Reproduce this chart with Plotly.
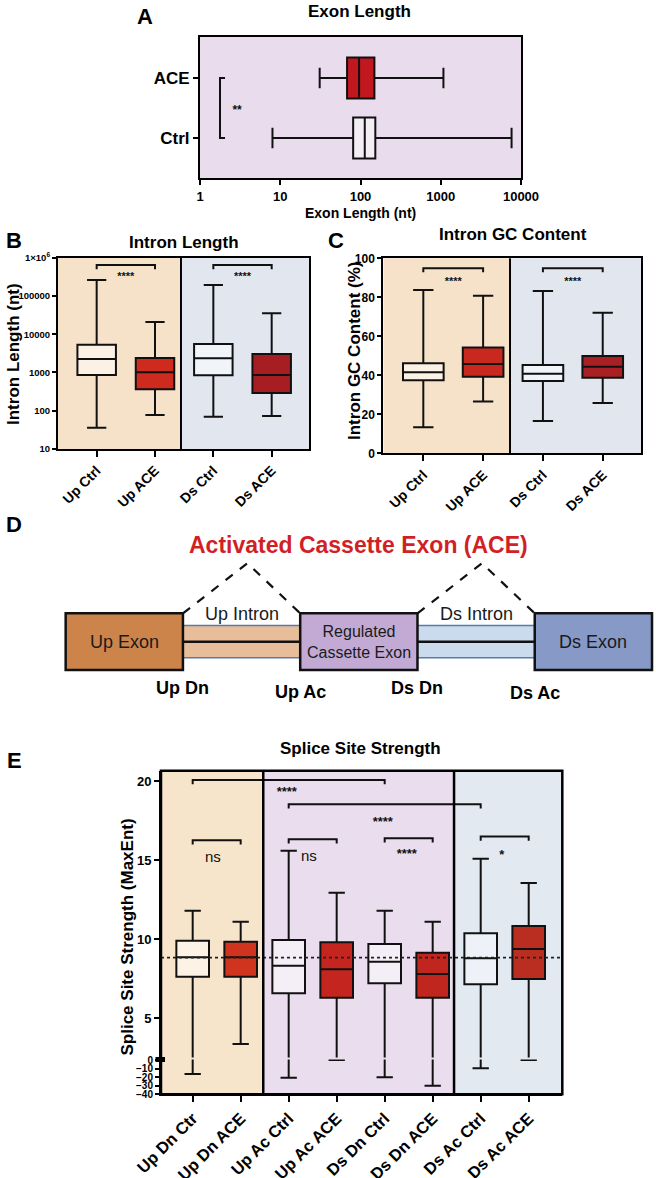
import plotly.graph_objects as go

W, H = 656, 1178
FONT = "Liberation Sans, Arial, Helvetica, sans-serif"
INK = "#111111"

# ---------------- Panel A : Exon Length (nt) ----------------
a_groups = ["Ctrl", "ACE"]
a_lowerfence = [8, 31]
a_q1 = [81, 68]
a_median = [113, 96]
a_q3 = [153, 149]
a_upperfence = [7630, 1080]
a_fill = ["#F4EEF4", "#C1171F"]
a_ticks = [1, 10, 100, 1000, 10000]
a_sig = "**"

# ---------------- Panel B : Intron Length (nt) ----------------
b_groups = ["Up Ctrl", "Up ACE", "Ds Ctrl", "Ds ACE"]
b_lowerfence = [36, 77, 70, 73]
b_q1 = [860, 363, 843, 291]
b_median = [2250, 1010, 2345, 860]
b_q3 = [5320, 2390, 5550, 3040]
b_upperfence = [261000, 20900, 193000, 35200]
b_fill = ["#FBF1E4", "#CF2A1E", "#F1F4F8", "#A71E22"]
b_tickvals = [10, 100, 1000, 10000, 100000, 1000000]
b_ticktext = ["10", "100", "1000", "10000", "100000", "1×10<sup>6</sup>"]
b_sig = [(0, 1, "****"), (2, 3, "****")]
b_sig_level, b_sig_tick, b_sig_label = 6.4e5, 5.0e5, 3.0e5

# ---------------- Panel C : Intron GC Content (%) ----------------
c_groups = ["Up Ctrl", "Up ACE", "Ds Ctrl", "Ds ACE"]
c_lowerfence = [13.3, 26.5, 16.6, 25.8]
c_q1 = [37.4, 39.3, 37.1, 38.8]
c_median = [41.5, 45.8, 40.8, 44.4]
c_q3 = [46.2, 54.2, 45.3, 49.9]
c_upperfence = [83.7, 80.8, 83.2, 72.1]
c_fill = ["#FBF1E4", "#C9281E", "#F1F4F8", "#A81F24"]
c_sig = [(0, 1, "****"), (2, 3, "****")]
c_sig_level, c_sig_tick, c_sig_label = 94.9, 92.8, 87.6

# ---------------- Panel D : schematic ----------------
d_elements = ["Up Exon", "Up Intron", "Regulated<br>Cassette Exon", "Ds Intron", "Ds Exon"]
d_kind = ["exon", "intron", "exon", "intron", "exon"]
d_fill = ["#CD844B", "#E8BE9A", "#C2AAD5", "#CADBEE", "#8799C6"]
d_sites = ["Up Dn", "Up Ac", "Ds Dn", "Ds Ac"]
d_title = "Activated Cassette Exon (ACE)"

# ---------------- Panel E : Splice Site Strength (MaxEnt) ----------------
e_groups = ["Up Dn Ctr", "Up Dn ACE", "Up Ac Ctrl", "Up Ac ACE",
            "Ds Dn Ctrl", "Ds Dn ACE", "Ds Ac Ctrl", "Ds Ac ACE"]
e_lowerfence = [-16.3, 3.37, -20.6, 0.0, -20.2, -30.0, -9.7, 0.0]
e_q1 = [7.63, 7.63, 6.58, 6.30, 7.22, 6.30, 7.15, 7.49]
e_median = [8.86, 8.86, 8.33, 8.10, 8.58, 7.80, 8.80, 9.39]
e_q3 = [9.91, 9.85, 9.96, 9.81, 9.70, 9.15, 10.38, 10.84]
e_upperfence = [11.81, 11.11, 15.61, 12.95, 11.81, 11.11, 15.10, 13.56]
e_fill = ["#FCF3E6", "#D0341E", "#F4EEF6", "#C4261F",
          "#F4EEF6", "#C0251E", "#EEF2F8", "#B92E20"]
e_reference = 8.84
# (from, to, bracket level, label, label level)
e_sig = [(0, 4, 20.08, "****", 19.25), (2, 6, 18.54, "****", 17.35),
         (0, 1, 16.27, "ns", 15.15), (2, 3, 16.33, "ns", 15.2),
         (4, 5, 16.40, "****", 15.35), (6, 7, 16.50, "*", 15.3)]

# ---------------- helpers ----------------
def xd(p0, p1):
    return [p0 / W, p1 / W]

def yd(p0, p1):
    return [1 - p1 / H, 1 - p0 / H]

def px(x):
    return x / W

def py(y):
    return 1 - y / H

fig = go.Figure()

def add_box(pos, lf, q1, med, q3, uf, fill, xa, ya, width, horizontal=False):
    kw = dict(q1=[q1], median=[med], q3=[q3], lowerfence=[lf], upperfence=[uf],
              fillcolor=fill, line=dict(color=INK, width=2), width=width,
              whiskerwidth=0.5, boxpoints=False, xaxis=xa, yaxis=ya,
              showlegend=False, hoverinfo="skip")
    if horizontal:
        kw.update(y=[pos], orientation="h")
    else:
        kw.update(x=[pos])
    fig.add_trace(go.Box(**kw))

def bracket(x0, x1, level, tick, xa, ya):
    fig.add_trace(go.Scatter(x=[x0, x0, x1, x1], y=[tick, level, level, tick],
                             mode="lines", line=dict(color=INK, width=2),
                             xaxis=xa, yaxis=ya, showlegend=False, hoverinfo="skip"))

def sig_text(x, y, t, xa, ya, size=11, bold=True):
    fig.add_trace(go.Scatter(x=[x], y=[y], text=[t], mode="text",
                             textfont=dict(family=FONT, size=size, color=INK,
                                           weight="bold" if bold else "normal"),
                             xaxis=xa, yaxis=ya, showlegend=False, hoverinfo="skip"))

shapes = []
annotations = []

def ann(text, x, y, size, bold=True, angle=0, color="#000000", xref="paper", yref="paper"):
    annotations.append(dict(text=text, x=x, y=y, xref=xref, yref=yref, showarrow=False,
                            xanchor="center", yanchor="middle", textangle=angle,
                            font=dict(family=FONT, size=size, color=color,
                                      weight="bold" if bold else "normal")))

axis_common = dict(showgrid=False, zeroline=False, showline=True, linecolor="#000",
                   linewidth=2, ticks="outside", tickwidth=2, tickcolor="#000",
                   automargin=False)

# ---------------- Panel A ----------------
for i, g in enumerate(a_groups):
    add_box(i, a_lowerfence[i], a_q1[i], a_median[i], a_q3[i], a_upperfence[i],
            a_fill[i], "x", "y", 0.68, horizontal=True)
fig.add_trace(go.Scatter(x=[2.05, 1.775, 1.775, 2.05], y=[1, 1, 0, 0], mode="lines",
                         line=dict(color=INK, width=2), xaxis="x", yaxis="y",
                         showlegend=False, hoverinfo="skip"))
sig_text(2.9, 0.45, a_sig, "x", "y", size=12)
shapes.append(dict(type="rect", xref="x domain", yref="y domain", x0=0, x1=1, y0=0, y1=1,
                   fillcolor="#E9DDED", line=dict(width=0), layer="below"))

# ---------------- Panel B ----------------
B_DIV = 1.445
for i, g in enumerate(b_groups):
    add_box(i, b_lowerfence[i], b_q1[i], b_median[i], b_q3[i], b_upperfence[i],
            b_fill[i], "x2", "y2", 0.66)
for (i0, i1, t) in b_sig:
    bracket(i0, i1, b_sig_level, b_sig_tick, "x2", "y2")
    sig_text((i0 + i1) / 2, b_sig_label, t, "x2", "y2", size=11)
shapes += [
    dict(type="rect", xref="x2", yref="y2 domain", x0=-0.663, x1=B_DIV, y0=0, y1=1,
         fillcolor="#F6E2C9", line=dict(width=0), layer="below"),
    dict(type="rect", xref="x2", yref="y2 domain", x0=B_DIV, x1=3.645, y0=0, y1=1,
         fillcolor="#E2E7EF", line=dict(width=0), layer="below"),
    dict(type="line", xref="x2", yref="y2 domain", x0=B_DIV, x1=B_DIV, y0=0, y1=1,
         line=dict(color="#000", width=2)),
]

# ---------------- Panel C ----------------
C_DIV = 1.45
for i, g in enumerate(c_groups):
    add_box(i, c_lowerfence[i], c_q1[i], c_median[i], c_q3[i], c_upperfence[i],
            c_fill[i], "x3", "y3", 0.68)
for (i0, i1, t) in c_sig:
    bracket(i0, i1, c_sig_level, c_sig_tick, "x3", "y3")
    sig_text((i0 + i1) / 2, c_sig_label, t, "x3", "y3", size=11)
shapes += [
    dict(type="rect", xref="x3", yref="y3 domain", x0=-0.669, x1=C_DIV, y0=0, y1=1,
         fillcolor="#F6E2C9", line=dict(width=0), layer="below"),
    dict(type="rect", xref="x3", yref="y3 domain", x0=C_DIV, x1=3.64, y0=0, y1=1,
         fillcolor="#E2E7EF", line=dict(width=0), layer="below"),
    dict(type="line", xref="x3", yref="y3 domain", x0=C_DIV, x1=C_DIV, y0=0, y1=1,
         line=dict(color="#000", width=2)),
]

# ---------------- Panel D ----------------
EXON_H, INTRON_H, PEAK = 0.5, 0.285, 1.383
for i, (name, kind, col) in enumerate(zip(d_elements, d_kind, d_fill)):
    if kind == "intron":
        shapes.append(dict(type="rect", xref="x4", yref="y4", x0=i - 0.02, x1=i + 1.02,
                           y0=-INTRON_H, y1=INTRON_H, fillcolor=col,
                           line=dict(color="#5A79AE", width=1.5), layer="below"))
        shapes.append(dict(type="line", xref="x4", yref="y4", x0=i, x1=i + 1, y0=0, y1=0,
                           line=dict(color="#111", width=2.5), layer="below"))
        fig.add_trace(go.Scatter(x=[i, i + 0.55, i + 1], y=[EXON_H, PEAK, EXON_H],
                                 mode="lines", line=dict(color="#111", width=2.2, dash="dash"),
                                 xaxis="x4", yaxis="y4", showlegend=False, hoverinfo="skip"))
        ann(name, i + 0.5, 0.49, 18, bold=False, color="#1a1a1a", xref="x4", yref="y4")
for i, (name, kind, col) in enumerate(zip(d_elements, d_kind, d_fill)):
    if kind == "exon":
        shapes.append(dict(type="rect", xref="x4", yref="y4", x0=i, x1=i + 1,
                           y0=-EXON_H, y1=EXON_H, fillcolor=col,
                           line=dict(color="#111", width=2.5), layer="above"))
        ann(name, i + 0.5, 0.0, 18 if "<br>" not in name else 16, bold=False,
            color="#1a1a1a", xref="x4", yref="y4")
site_y = [-0.82, -0.88, -0.82, -0.91]
for k, s in enumerate(d_sites):
    ann(s, k + 1, site_y[k], 18, bold=True, xref="x4", yref="y4")
ann(d_title, 2.5, 1.705, 23, bold=True, color="#D21F26", xref="x4", yref="y4")

# ---------------- Panel E ----------------
E_DIV1, E_DIV2 = 1.47, 5.445
E_X0, E_X1 = -0.66, 7.7
for i, g in enumerate(e_groups):
    for ya in ("y5", "y6"):
        add_box(i, e_lowerfence[i], e_q1[i], e_median[i], e_q3[i], e_upperfence[i],
                e_fill[i], "x5", ya, 0.68)
fig.add_trace(go.Scatter(x=[E_X0, E_X1], y=[e_reference, e_reference], mode="lines",
                         line=dict(color="#222", width=1.6, dash="dot"),
                         xaxis="x5", yaxis="y5", showlegend=False, hoverinfo="skip"))
for (i0, i1, lvl, t, ly) in e_sig:
    bracket(i0, i1, lvl, lvl - 0.27, "x5", "y5")
    if t == "ns":
        sig_text((i0 + i1) / 2 - 0.08, ly, t, "x5", "y5", size=15, bold=False)
    else:
        sig_text((i0 + i1) / 2 - (0.06 if t == "*" else 0.04), ly, t, "x5", "y5", size=13)
E_TOP, E_BOT = 770.7, 1094.3
for (x0, x1, col) in [(E_X0, E_DIV1, "#F6E5CB"), (E_DIV1, E_DIV2, "#EADDEE"), (E_DIV2, E_X1, "#E3E9F1")]:
    shapes.append(dict(type="rect", xref="x5", yref="paper", x0=x0, x1=x1,
                       y0=py(E_BOT), y1=py(E_TOP), fillcolor=col, line=dict(width=0),
                       layer="below"))
for xv in (E_DIV1, E_DIV2):
    shapes.append(dict(type="line", xref="x5", yref="paper", x0=xv, x1=xv,
                       y0=py(E_BOT), y1=py(E_TOP), line=dict(color="#000", width=2.5)))
shapes.append(dict(type="rect", xref="paper", yref="paper", x0=px(161), x1=px(562.3),
                   y0=py(E_BOT), y1=py(E_TOP), line=dict(color="#000", width=2.5),
                   fillcolor="rgba(0,0,0,0)", layer="above"))
shapes.append(dict(type="rect", xref="paper", yref="paper", x0=px(155.5), x1=px(165),
                   y0=py(1062), y1=py(1057), fillcolor="#000", line=dict(width=0),
                   layer="above"))

# ---------------- text labels ----------------
for (t, x, y) in [("A", 145, 16), ("B", 14, 241), ("C", 336, 240), ("D", 14, 525), ("E", 14, 760)]:
    ann(t, px(x), py(y), 22)
for (t, x, y) in [("Exon Length", 359.5, 11), ("Intron Length", 184.3, 242),
                  ("Intron GC Content", 513.3, 235), ("Splice Site Strength", 360.5, 749)]:
    ann(t, px(x), py(y), 17)
ann("Exon Length (nt)", px(360), py(213), 14)
ann("Intron Length (nt)", px(13), py(354), 17, angle=-90)
ann("Intron GC Content (%)", px(354), py(351), 17, angle=-90)
ann("Splice Site Strength (MaxEnt)", px(127), py(937.5), 17, angle=-90)

tf = lambda s: dict(family=FONT, size=s, color="#000", weight="bold")

fig.update_layout(
    width=W, height=H, autosize=False,
    margin=dict(l=0, r=0, t=0, b=0, pad=0, autoexpand=False),
    paper_bgcolor="white", plot_bgcolor="rgba(0,0,0,0)",
    showlegend=False,
    shapes=shapes, annotations=annotations,
    xaxis=dict(axis_common, type="log", range=[0, 4], domain=xd(200, 521), anchor="y",
               tickvals=a_ticks, ticktext=[str(v) for v in a_ticks], ticklen=5,
               tickfont=tf(13), mirror=True),
    yaxis=dict(axis_common, range=[-0.667, 1.683], domain=yd(37, 178), anchor="x",
               tickvals=[0, 1], ticktext=a_groups, ticklen=5, tickfont=tf(17), mirror=True),
    xaxis2=dict(axis_common, range=[-0.663, 3.645], domain=xd(58, 309.3), anchor="y2",
                tickvals=list(range(len(b_groups))), ticktext=b_groups, tickangle=-45,
                ticklen=6, tickfont=tf(14), mirror=True),
    yaxis2=dict(axis_common, type="log", range=[1, 6], domain=yd(257.7, 449), anchor="x2",
                tickvals=b_tickvals, ticktext=b_ticktext, ticklen=4, tickfont=tf(9.5),
                mirror=True),
    xaxis3=dict(axis_common, range=[-0.669, 3.64], domain=xd(383.3, 641), anchor="y3",
                tickvals=list(range(len(c_groups))), ticktext=c_groups, tickangle=-45,
                ticklen=6, tickfont=tf(14), mirror=True),
    yaxis3=dict(axis_common, range=[0, 100], domain=yd(258.3, 453.3), anchor="x3",
                tickvals=[0, 20, 40, 60, 80, 100], ticklen=4, tickfont=tf(12), mirror=True),
    xaxis4=dict(visible=False, range=[-0.560, 5.034], domain=xd(0, 656), anchor="y4"),
    yaxis4=dict(visible=False, range=[-1.205, 2.411], domain=yd(505, 710), anchor="x4"),
    xaxis5=dict(axis_common, range=[E_X0, E_X1], domain=xd(161, 562.3), anchor="y6",
                tickvals=list(range(len(e_groups))), ticktext=e_groups, tickangle=-45,
                ticklen=6, tickfont=tf(16.5)),
    yaxis5=dict(axis_common, range=[2.52, 20.67], domain=yd(770.7, 1057.5), anchor="x5",
                tickvals=[5, 10, 15, 20], ticklen=5, tickfont=tf(13)),
    yaxis6=dict(axis_common, range=[-40, 0.6], domain=yd(1059.5, 1094.3), anchor="x5",
                tickvals=[0, -10, -20, -30, -40], ticklen=4, tickfont=tf(10)),
)

# remove the browser's default 8px page margin so the figure sits at the page origin
fig.write_html("out.html",
               config={"displayModeBar": False, "staticPlot": True},
               post_script="document.body.style.margin='0';document.body.style.overflow='hidden';")
